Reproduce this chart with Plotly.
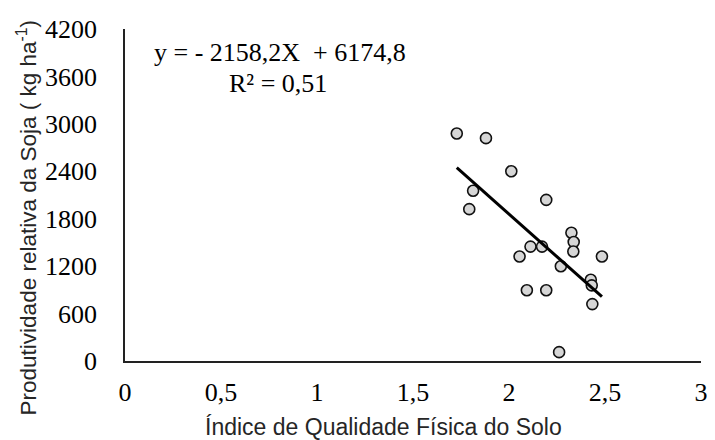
import plotly.graph_objects as go

iqfs = [1.728, 1.880, 2.012, 1.813, 1.793, 2.194, 2.325, 2.337, 2.335, 2.112,
        2.172, 2.055, 2.484, 2.270, 2.426, 2.431, 2.093, 2.194, 2.434, 2.261]
produtividade = [2878, 2819, 2400, 2154, 1921, 2038, 1622, 1506, 1385, 1447,
                 1447, 1322, 1322, 1198, 1028, 957, 895, 895, 720, 112]

slope = -2158.2
intercept = 6174.8
trend_x = [min(iqfs), max(iqfs)]
trend_y = [slope * v + intercept for v in trend_x]

x_tickvals = [0, 0.5, 1, 1.5, 2, 2.5, 3]
x_ticktext = ["0", "0,5", "1", "1,5", "2", "2,5", "3"]
y_tickvals = [0, 600, 1200, 1800, 2400, 3000, 3600, 4200]

x_title = "Índice de Qualidade Física do Solo"
y_title = "Produtividade relativa da Soja ( kg ha<sup>-1</sup>)"
equation = "y = - 2158,2X \u00a0+ 6174,8"
r2_text = "R² = 0,51"

fig = go.Figure()
fig.add_trace(go.Scatter(
    x=iqfs, y=produtividade, mode="markers",
    marker=dict(size=11, color="#d6d6d6", line=dict(color="#111111", width=1.6)),
    showlegend=False))
fig.add_trace(go.Scatter(
    x=trend_x, y=trend_y, mode="lines",
    line=dict(color="black", width=3), showlegend=False))

serif = "Liberation Serif"
sans = "Liberation Sans"

fig.add_annotation(x=0.808, y=3900, xref="x", yref="y", showarrow=False,
                   xanchor="center", yanchor="middle",
                   text=equation, font=dict(family=serif, size=26, color="black"))
fig.add_annotation(x=0.798, y=3510, xref="x", yref="y", showarrow=False,
                   xanchor="center", yanchor="middle",
                   text=r2_text, font=dict(family=serif, size=26, color="black"))

fig.add_annotation(x=-0.1698, y=0.433, xref="paper", yref="paper", showarrow=False,
                   xanchor="center", yanchor="middle",
                   textangle=-90, text=y_title,
                   font=dict(family=sans, size=22.5, color="#262626"))
fig.add_annotation(x=0.4494, y=-0.1994, xref="paper", yref="paper", showarrow=False,
                   xanchor="center", yanchor="middle",
                   text=x_title, font=dict(family=sans, size=23, color="#262626"))

fig.update_layout(
    width=707, height=432,
    margin=dict(l=117, r=7, t=17, b=79),
    plot_bgcolor="white", paper_bgcolor="white",
    xaxis=dict(range=[0, 3], tickvals=x_tickvals, ticktext=x_ticktext,
               showgrid=False, zeroline=False, showline=True,
               linecolor="#222222", linewidth=1.5, ticks="",
               tickfont=dict(family=serif, size=26, color="black"),
               ticklabelstandoff=7),
    yaxis=dict(range=[0, 4200], tickvals=y_tickvals,
               showgrid=False, zeroline=False, showline=True,
               linecolor="#222222", linewidth=1.5, ticks="",
               tickfont=dict(family=serif, size=26, color="black"),
               ticklabelstandoff=21),
)

fig.write_html("out.html")
